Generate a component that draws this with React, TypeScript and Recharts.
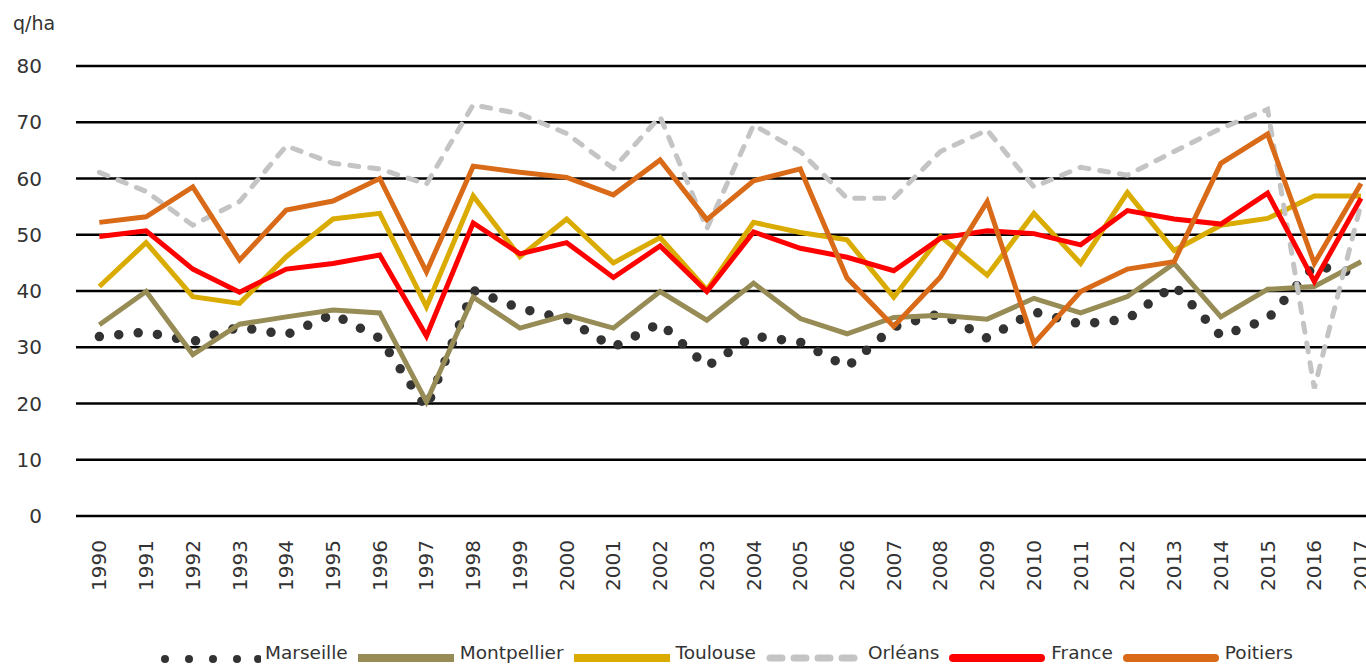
import React from 'react';
import { LineChart, Line, XAxis, YAxis, CartesianGrid } from 'recharts';

const years = ['1990','1991','1992','1993','1994','1995','1996','1997','1998','1999','2000','2001','2002','2003','2004','2005','2006','2007','2008','2009','2010','2011','2012','2013','2014','2015','2016','2017'];

const marseille = [31.9, 32.7, 31.0, 33.6, 32.2, 35.9, 31.6, 19.2, 40.1, 36.9, 35.0, 30.0, 34.3, 26.6, 32.0, 30.9, 26.5, 33.6, 36.0, 31.6, 36.3, 34.1, 35.0, 41.0, 32.0, 35.0, 44.5, 43.0];
const montpellier = [34.0, 39.9, 28.7, 34.1, 35.4, 36.6, 36.1, 20.3, 38.9, 33.4, 35.7, 33.4, 39.9, 34.8, 41.4, 35.1, 32.4, 35.3, 35.7, 35.0, 38.7, 36.1, 39.0, 44.9, 35.4, 40.3, 40.8, 45.2];
const toulouse = [40.8, 48.6, 39.0, 37.8, 46.1, 52.8, 53.8, 37.2, 56.9, 46.1, 52.8, 45.0, 49.5, 40.2, 52.2, 50.4, 49.1, 38.9, 49.7, 42.8, 53.8, 44.9, 57.5, 47.2, 51.7, 52.9, 56.9, 56.9];
const orleans = [61.1, 57.7, 51.7, 55.9, 65.8, 62.7, 61.7, 59.0, 73.1, 71.5, 68.0, 61.8, 71.0, 51.1, 69.5, 64.8, 56.5, 56.5, 64.8, 68.6, 58.5, 62.0, 60.6, 64.8, 68.9, 72.3, 22.7, 55.5];
const france = [49.7, 50.7, 43.9, 39.8, 43.9, 44.9, 46.4, 32.0, 52.1, 46.6, 48.6, 42.4, 48.0, 39.9, 50.5, 47.6, 46.0, 43.6, 49.4, 50.7, 50.2, 48.2, 54.3, 52.8, 51.9, 57.4, 41.7, 56.5];
const poitiers = [52.2, 53.2, 58.5, 45.5, 54.4, 56.0, 60.0, 43.4, 62.2, 61.1, 60.2, 57.1, 63.3, 52.7, 59.6, 61.7, 42.3, 33.7, 42.5, 55.9, 30.7, 39.9, 43.9, 45.2, 62.7, 67.9, 44.9, 59.1];

const yTicks = [0, 10, 20, 30, 40, 50, 60, 70, 80];
const unitLabel = 'q/ha';

const data = years.map((y, i) => ({
  idx: i,
  year: y,
  marseille: marseille[i],
  montpellier: montpellier[i],
  toulouse: toulouse[i],
  orleans: orleans[i],
  france: france[i],
  poitiers: poitiers[i],
}));

const centerTicks = years.map((_, i) => i);
const boundaryTicks = years.map((_, i) => i - 0.5).concat([years.length - 0.5]);
const xDomain = [-0.5, years.length - 0.5];

const FONT = '"DejaVu Sans", Verdana, sans-serif';
const TEXT = '#333333';

const series = [
  { key: 'marseille', name: 'Marseille', color: '#333333', kind: 'dots' },
  { key: 'montpellier', name: 'Montpellier', color: '#978C55', kind: 'solid' },
  { key: 'toulouse', name: 'Toulouse', color: '#DAAB00', kind: 'solid' },
  { key: 'orleans', name: 'Orléans', color: '#C4C4C4', kind: 'dash' },
  { key: 'france', name: 'France', color: '#FF0000', kind: 'solid' },
  { key: 'poitiers', name: 'Poitiers', color: '#D86A18', kind: 'solid' },
];

function YearTick(props: any) {
  const { x, y, payload } = props;
  const label = years[payload.value];
  return (
    <g transform={`translate(${x},${y})`}>
      <text
        transform="rotate(-90)"
        textAnchor="end"
        dominantBaseline="central"
        fontFamily={FONT}
        fontSize={20}
        fill={TEXT}
      >
        {label}
      </text>
    </g>
  );
}

function LegendIcon({ item }: { item: any }) {
  if (item.kind === 'dots') {
    return (
      <svg width={100} height={20} style={{ display: 'block' }}>
        {[4, 28, 52, 76, 97].map((cx) => (
          <circle key={cx} cx={cx} cy={16} r={4} fill={item.color} />
        ))}
      </svg>
    );
  }
  if (item.kind === 'dash') {
    return (
      <svg width={96} height={20} style={{ display: 'block' }}>
        <line x1={4} y1={15} x2={92} y2={15} stroke={item.color} strokeWidth={7} strokeDasharray="12 12" strokeLinecap="round" />
      </svg>
    );
  }
  const rounded = item.key === 'france' || item.key === 'poitiers';
  return (
    <svg width={96} height={20} style={{ display: 'block' }}>
      <line x1={rounded ? 4 : 0} y1={15} x2={rounded ? 92 : 96} y2={15} stroke={item.color} strokeWidth={8} strokeLinecap={rounded ? 'round' : 'butt'} />
    </svg>
  );
}

export default function App() {
  return (
    <div style={{ position: 'absolute', left: 0, top: 0, width: 1366, height: 668, overflow: 'hidden', background: '#fff' }}>
      <LineChart
        width={1400}
        height={668}
        data={data}
        margin={{ top: 66, right: 15.6, bottom: 52, left: 0 }}
      >
        <CartesianGrid xAxisId="lab" vertical={false} stroke="#000" strokeWidth={2.5} />
        <XAxis
          xAxisId="b"
          type="number"
          dataKey="idx"
          domain={xDomain}
          ticks={boundaryTicks}
          interval={0}
          mirror
          height={0}
          tick={false}
          tickSize={8}
          axisLine={{ stroke: '#000', strokeWidth: 2.5 }}
          tickLine={{ stroke: '#000', strokeWidth: 2 }}
          allowDecimals
        />
        <XAxis
          xAxisId="lab"
          type="number"
          dataKey="idx"
          domain={xDomain}
          ticks={centerTicks}
          interval={0}
          height={100}
          axisLine={false}
          tickLine={false}
          tickSize={0}
          tickMargin={24}
          tick={<YearTick />}
        />
        <YAxis
          domain={[0, 80]}
          ticks={yTicks}
          interval={0}
          width={76}
          axisLine={false}
          tickLine={false}
          tickSize={0}
          tickMargin={34}
          tick={{ fontSize: 20, fill: TEXT, fontFamily: FONT }}
        />
        <Line
          xAxisId="lab"
          dataKey="marseille"
          name="Marseille"
          stroke="#333333"
          strokeWidth={9.5}
          strokeDasharray="0 19.5"
          strokeLinecap="round"
          dot={false}
          activeDot={false}
          isAnimationActive={false}
        />
        <Line xAxisId="lab" dataKey="montpellier" name="Montpellier" stroke="#978C55" strokeWidth={5} dot={false} activeDot={false} isAnimationActive={false} />
        <Line xAxisId="lab" dataKey="toulouse" name="Toulouse" stroke="#DAAB00" strokeWidth={5} dot={false} activeDot={false} isAnimationActive={false} />
        <Line
          xAxisId="lab"
          dataKey="orleans"
          name="Orléans"
          stroke="#C4C4C4"
          strokeWidth={5}
          strokeDasharray="9 11"
          strokeLinecap="round"
          dot={false}
          activeDot={false}
          isAnimationActive={false}
        />
        <Line xAxisId="lab" dataKey="france" name="France" stroke="#FF0000" strokeWidth={5} dot={false} activeDot={false} isAnimationActive={false} />
        <Line xAxisId="lab" dataKey="poitiers" name="Poitiers" stroke="#D86A18" strokeWidth={5} dot={false} activeDot={false} isAnimationActive={false} />
      </LineChart>

      <div style={{ position: 'absolute', left: 13, top: 14, fontFamily: FONT, fontSize: 19, lineHeight: '19px', color: TEXT }}>
        {unitLabel}
      </div>

      <div style={{ position: 'absolute', left: 161, top: 643, display: 'flex', alignItems: 'flex-start', fontFamily: FONT, fontSize: 18.5, lineHeight: '20px', color: TEXT, whiteSpace: 'nowrap' }}>
        {series.map((s) => (
          <div key={s.key} style={{ display: 'flex', alignItems: 'flex-start', marginRight: 10 }}>
            <LegendIcon item={s} />
            <span style={{ marginLeft: s.kind === 'dots' ? 4 : 6 }}>{s.name}</span>
          </div>
        ))}
      </div>
    </div>
  );
}
